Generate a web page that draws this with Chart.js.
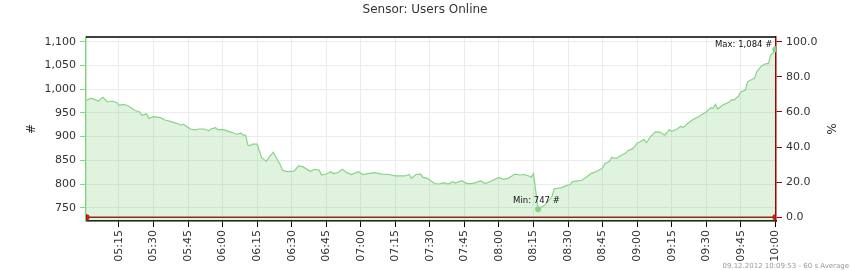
<!DOCTYPE html>
<html>
<head>
<meta charset="utf-8">
<title>Sensor: Users Online</title>
<script src="https://cdn.jsdelivr.net/npm/chart.js@4.4.0/dist/chart.umd.min.js"></script>
<style>
  body { margin: 0; background: #fff; }
  #wrap { width: 850px; height: 270px; }
</style>
</head>
<body>
<div id="wrap"><canvas id="myChart" width="850" height="270"></canvas></div>
<script>
// ---- data (minutes after 05:00, 60 s average) ----
const chartTitle = "Sensor: Users Online";
const footerText = "09.12.2012 10:09:53 - 60 s Average";

const minutes = [1, 3, 4, 6, 8, 10, 12, 14, 15, 17, 19, 22, 24, 25, 27, 28, 30, 33, 35, 38, 40, 42, 43, 46, 48, 50, 52,
  54, 55, 57, 58, 60, 62, 64, 66, 68, 69, 70, 71, 72, 73, 75, 77, 79, 80, 82, 85, 86, 88, 91, 93, 95, 98, 100, 102,
  103, 105, 107, 108, 110, 112, 114, 116, 119, 121, 123, 126, 129, 132, 135, 139, 141, 142, 144, 146, 147, 149, 152, 154,
  156, 158, 160, 161, 164, 166, 168, 170, 172, 174, 177, 180, 182, 184, 187, 189, 191, 193, 194, 195, 197, 200, 203, 204,
  207, 209, 211, 212, 215, 216, 218, 220, 223, 225, 226, 228, 229, 231, 233, 235, 236, 238, 240, 241, 243, 244, 246, 248, 250, 252, 254, 255, 257,
  259, 260, 262, 264, 267, 269, 270, 272, 273, 274, 275, 277, 280, 281, 282, 284, 285, 287, 288, 290, 291, 292, 294, 296, 297, 298, 299, 300];

const users = [977, 981, 979, 975, 983, 973, 975, 972, 966, 968, 965, 955, 952, 945, 948, 938, 942, 940, 935, 931, 928, 924, 926, 916, 914, 916, 916,
  912, 916, 919, 914, 915, 912, 909, 905, 907, 903, 903, 882, 881, 884, 884, 855, 848, 855, 867, 841, 829, 826, 827, 838, 836, 827, 831, 829,
  819, 821, 826, 822, 824, 831, 824, 820, 826, 820, 822, 824, 821, 820, 817, 817, 820, 812, 820, 821, 814, 812, 801, 800,
  803, 800, 805, 802, 807, 801, 801, 803, 807, 801, 807, 814, 810, 812, 821, 819, 820, 817, 814, 822, 747, 756, 773, 790,
  792, 796, 799, 805, 807, 808, 815, 822, 828, 834, 843, 848, 856, 854, 860, 865, 870, 874, 886, 888, 894, 887, 901, 910, 909, 903, 915, 911, 915,
  922, 919, 928, 935, 943, 949, 952, 961, 959, 968, 958, 966, 973, 978, 977, 985, 994, 998, 1016, 1021, 1023, 1037, 1049, 1054, 1054, 1072, 1076, 1084];

// second channel (percent), flat at 0
const percentMinutes = [1, 300];
const percentValues = [0, 0];

const userTicks = [750, 800, 850, 900, 950, 1000, 1050, 1100];
const percentTicks = [0, 20, 40, 60, 80, 100];

// ---- helpers ----
function fmtTime(v) {
  const t = 5 * 60 + v;
  const h = Math.floor(t / 60), m = Math.round(t % 60);
  return String(h).padStart(2, "0") + ":" + String(m).padStart(2, "0");
}

const minVal = Math.min(...users);
const maxVal = Math.max(...users);
const minIdx = users.indexOf(minVal);
const maxIdx = users.indexOf(maxVal);

const userPoints = minutes.map((m, i) => ({ x: m, y: users[i] }));
const percentPoints = percentMinutes.map((m, i) => ({ x: m, y: percentValues[i] }));

const FONT = '"DejaVu Sans", Verdana, sans-serif';

// frame, title, min/max labels and footer
const extras = {
  id: "extras",
  afterDraw(chart) {
    const { ctx, chartArea: a, scales } = chart;
    ctx.save();
    ctx.strokeStyle = "#000";
    ctx.lineWidth = 1.5;
    ctx.beginPath();
    ctx.moveTo(a.left, a.top);
    ctx.lineTo(a.right, a.top);
    ctx.stroke();

    ctx.fillStyle = "#333";
    ctx.font = "12px " + FONT;
    ctx.textAlign = "center";
    ctx.textBaseline = "middle";
    ctx.fillText(chartTitle, 425, 10);

    // axis titles
    ctx.save();
    ctx.translate(32, 129);
    ctx.rotate(-Math.PI / 2);
    ctx.fillText("#", 0, 0);
    ctx.restore();
    ctx.save();
    ctx.translate(830, 129);
    ctx.rotate(Math.PI / 2);
    ctx.fillText("%", 0, 0);
    ctx.restore();

    // min / max labels
    ctx.fillStyle = "#111";
    ctx.font = "8.5px " + FONT;
    const mx = scales.x.getPixelForValue(minutes[minIdx]);
    const my = scales.y.getPixelForValue(minVal);
    ctx.textAlign = "left";
    ctx.fillText("Min: " + minVal.toLocaleString("en-US") + " #", mx - 25, my - 8);
    const Mx = scales.x.getPixelForValue(minutes[maxIdx]);
    const My = scales.y.getPixelForValue(maxVal);
    ctx.textAlign = "right";
    ctx.fillText("Max: " + maxVal.toLocaleString("en-US") + " #", Mx - 3, My - 5);

    // footer
    ctx.fillStyle = "#999";
    ctx.font = "7px " + FONT;
    ctx.textAlign = "right";
    ctx.fillText(footerText, 849, 266);
    ctx.restore();
  }
};

const ctx = document.getElementById("myChart").getContext("2d");

const myChart = new Chart(ctx, {
  type: "line",
  data: {
    datasets: [
      {
        label: "Users Online",
        data: userPoints,
        yAxisID: "y",
        borderColor: "rgb(135, 212, 135)",
        borderWidth: 1.2,
        backgroundColor: "rgba(110, 200, 110, 0.22)",
        fill: "origin",
        tension: 0,
        pointRadius: (c) => (c.dataIndex === minIdx || c.dataIndex === maxIdx ? 3 : 0),
        pointBackgroundColor: "rgb(135, 212, 135)",
        pointBorderWidth: 0
      },
      {
        label: "Percent",
        data: percentPoints,
        yAxisID: "y2",
        borderColor: "#990000",
        borderWidth: 1.5,
        fill: false,
        pointRadius: 3,
        pointBackgroundColor: "#cc0000",
        pointBorderWidth: 0
      }
    ]
  },
  options: {
    responsive: false,
    animation: false,
    layout: { padding: { top: 37, left: 0, right: 0, bottom: 0 } },
    plugins: {
      legend: { display: false },
      tooltip: { enabled: false },
      title: { display: false }
    },
    scales: {
      x: {
        type: "linear",
        min: 0.7,
        max: 300.3,
        afterFit(scale) { scale.height = 49; },
        border: { color: "#000", width: 1.5 },
        grid: { color: "#ebebeb", tickColor: "#000", tickLength: 6 },
        ticks: {
          stepSize: 15,
          includeBounds: false,
          autoSkip: false,
          maxRotation: 90,
          minRotation: 90,
          padding: 3,
          color: "#333",
          font: { family: FONT, size: 11 },
          callback: (v) => fmtTime(v)
        }
      },
      y: {
        position: "left",
        min: 722,
        max: 1110,
        afterFit(scale) { scale.width = 86; },
        afterBuildTicks(scale) { scale.ticks = userTicks.map((v) => ({ value: v })); },
        border: { color: "#80d680", width: 1.5 },
        grid: { color: "#ebebeb", tickColor: "#80d680", tickLength: 6 },
        ticks: {
          padding: 4,
          color: "#333",
          font: { family: FONT, size: 11 },
          callback: (v) => v.toLocaleString("en-US")
        }
      },
      y2: {
        position: "right",
        min: -2.1,
        max: 102.7,
        afterFit(scale) { scale.width = 74; },
        afterBuildTicks(scale) { scale.ticks = percentTicks.map((v) => ({ value: v })); },
        border: { color: "#990000", width: 1.5 },
        grid: { drawOnChartArea: false, tickColor: "#990000", tickLength: 6 },
        ticks: {
          padding: 4,
          color: "#333",
          font: { family: FONT, size: 11 },
          callback: (v) => v.toFixed(1)
        }
      }
    }
  },
  plugins: [extras]
});
</script>
</body>
</html>
